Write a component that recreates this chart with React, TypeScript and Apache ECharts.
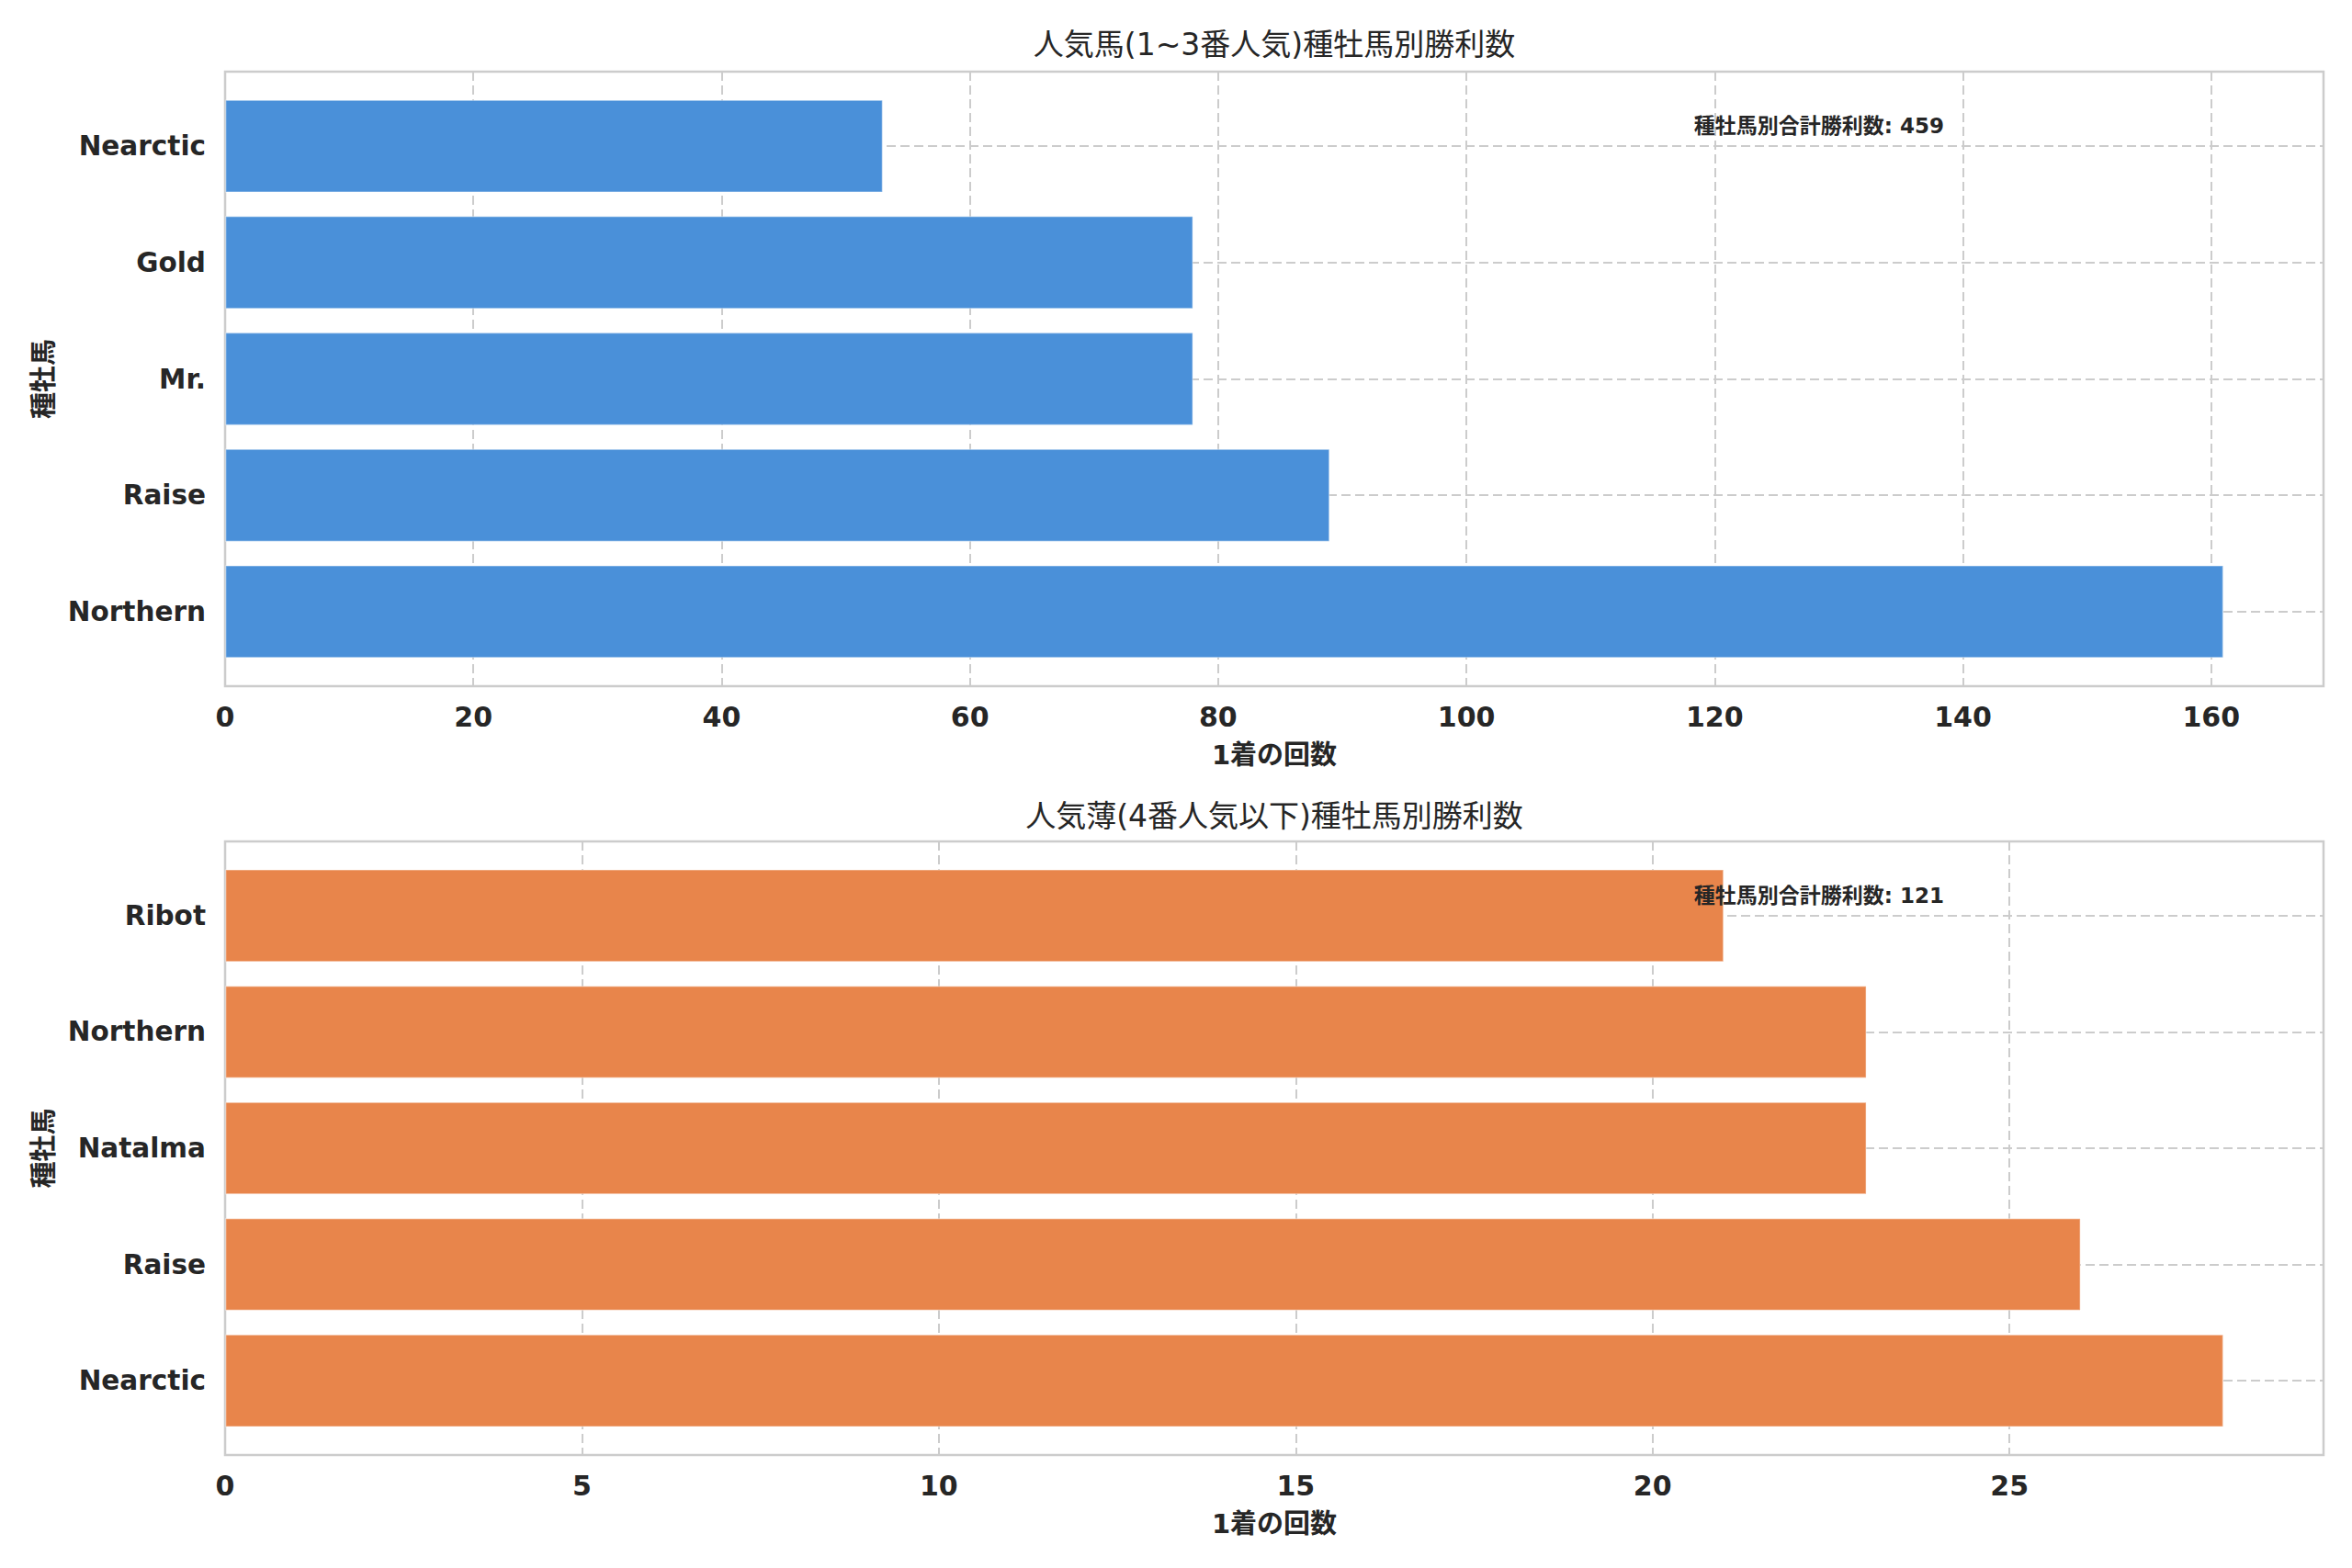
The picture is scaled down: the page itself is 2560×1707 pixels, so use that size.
import * as echarts from 'echarts';
import { useEffect, useRef } from 'react';

// 上段: 1~3番人気
const topCategories = ['Northern', 'Raise', 'Mr.', 'Gold', 'Nearctic'];
const topValues = [161, 89, 78, 78, 53];
// 下段: 4番人気以下
const bottomCategories = ['Nearctic', 'Raise', 'Natalma', 'Northern', 'Ribot'];
const bottomValues = [28, 26, 23, 23, 21];

const topTitle = '人気馬(1~3番人気)種牡馬別勝利数';
const bottomTitle = '人気薄(4番人気以下)種牡馬別勝利数';
const xName = '1着の回数';
const yName = '種牡馬';
const noteLabel = '種牡馬別合計勝利数';

const textColor = '#262626';
const gridColor = '#cccccc';
const font = '"DejaVu Sans", "Noto Sans CJK JP", sans-serif';

const W = 2560;
const H = 1707;
const left = 245;
const right = 2529;
const panels = [
  { top: 78, bottom: 747, cats: topCategories, vals: topValues, color: '#4a90d9', title: topTitle, titleY: 48, tick: 20 },
  { top: 916, bottom: 1584, cats: bottomCategories, vals: bottomValues, color: '#e8854b', title: bottomTitle, titleY: 888, tick: 5 },
];

export default function App() {
  const ref = useRef<HTMLDivElement | null>(null);

  useEffect(() => {
    if (!ref.current) return;
    const chart = echarts.init(ref.current, null, { renderer: 'svg' });

    const grid: any[] = [];
    const xAxis: any[] = [];
    const yAxis: any[] = [];
    const series: any[] = [];
    const graphic: any[] = [];

    panels.forEach((p, i) => {
      const h = p.bottom - p.top;
      // matplotlib の余白 (-0.64 ~ 4.64) に合わせる
      const pad = (0.64 / 5.28) * h;
      const max = Math.max(...p.vals) * 1.05;

      // 枠と縦グリッド
      grid.push({
        left,
        top: p.top,
        width: right - left,
        height: h,
        show: true,
        borderColor: gridColor,
        borderWidth: 2.5,
        backgroundColor: '#fff',
      });
      // 棒用
      grid.push({
        left,
        top: p.top + pad,
        width: right - left,
        height: h - 2 * pad,
      });

      xAxis.push({
        type: 'value',
        gridIndex: i * 2,
        min: 0,
        max,
        interval: p.tick,
        axisLine: { show: false },
        axisTick: { show: false },
        axisLabel: {
          showMaxLabel: false,
          margin: 18,
          fontSize: 30,
          fontWeight: 'bold',
          color: textColor,
          fontFamily: font,
        },
        splitLine: { show: true, lineStyle: { color: gridColor, width: 2, type: [10, 5] } },
        name: xName,
        nameLocation: 'middle',
        nameGap: 60,
        nameTextStyle: { fontSize: 29, fontWeight: 'bold', color: textColor, fontFamily: font },
      });
      xAxis.push({
        type: 'value',
        gridIndex: i * 2 + 1,
        min: 0,
        max,
        show: false,
      });

      yAxis.push({
        type: 'value',
        gridIndex: i * 2,
        axisLine: { show: false },
        axisTick: { show: false },
        axisLabel: { show: false },
        splitLine: { show: false },
        name: yName,
        nameLocation: 'middle',
        nameRotate: 90,
        nameGap: 183,
        nameTextStyle: { fontSize: 29, fontWeight: 'bold', color: textColor, fontFamily: font },
      });
      yAxis.push({
        type: 'category',
        gridIndex: i * 2 + 1,
        data: p.cats,
        boundaryGap: false,
        axisLine: { show: false },
        axisTick: { show: false },
        axisLabel: {
          interval: 0,
          margin: 21,
          fontSize: 29.5,
          fontWeight: 'bold',
          color: textColor,
          fontFamily: font,
        },
        splitLine: { show: true, interval: 0, lineStyle: { color: gridColor, width: 2, type: [10, 5] } },
      });

      series.push({
        type: 'bar',
        xAxisIndex: i * 2 + 1,
        yAxisIndex: i * 2 + 1,
        data: p.vals,
        barWidth: '80%',
        clip: false,
        itemStyle: { color: p.color, borderColor: 'rgba(255,255,255,0.35)', borderWidth: 1.5 },
      });

      graphic.push({
        type: 'text',
        x: (left + right) / 2,
        y: p.titleY,
        style: {
          text: p.title,
          fontSize: 33,
          fontFamily: font,
          fill: textColor,
          textAlign: 'center',
          textVerticalAlign: 'middle',
        },
      });
      graphic.push({
        type: 'text',
        x: left + 0.7 * (right - left),
        y: p.top + 59,
        z: 10,
        style: {
          text: `${noteLabel}: ${p.vals.reduce((a, b) => a + b, 0)}`,
          fontSize: 23,
          fontWeight: 'bold',
          fontFamily: font,
          fill: textColor,
          textAlign: 'left',
          textVerticalAlign: 'middle',
        },
      });
    });

    chart.setOption({
      animation: false,
      backgroundColor: '#ffffff',
      grid,
      xAxis,
      yAxis,
      series,
      graphic,
    } as echarts.EChartsOption);

    return () => {
      chart.dispose();
    };
  }, []);

  return (
    <div
      ref={ref}
      style={{ position: 'fixed', left: 0, top: 0, width: `${W}px`, height: `${H}px` }}
    />
  );
}
